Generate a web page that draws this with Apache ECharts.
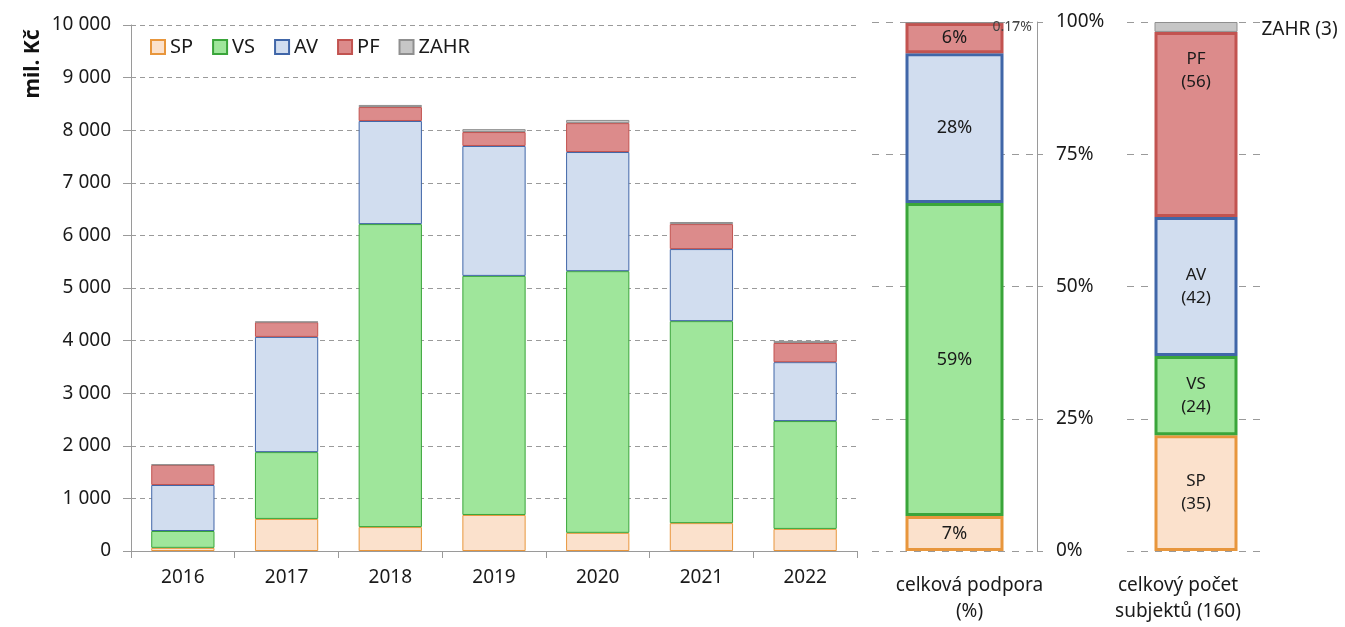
<!DOCTYPE html>
<html>
<head>
<meta charset="utf-8">
<script src="https://cdn.jsdelivr.net/npm/echarts@6/dist/echarts.min.js"></script>
<style>
  html, body { margin: 0; padding: 0; background: #fff; }
  #chart { width: 1345px; height: 627px; }
</style>
</head>
<body>
<div id="chart"></div>
<script>
// roky a hodnoty (mil. Kč)
const years = ['2016', '2017', '2018', '2019', '2020', '2021', '2022'];
const sp = [60, 610, 455, 685, 345, 530, 420];
const vs = [320, 1270, 5760, 4545, 4975, 3840, 2050];
const av = [875, 2190, 1960, 2470, 2265, 1370, 1120];
const pf = [380, 280, 265, 265, 550, 475, 365];
const zahr = [10, 10, 40, 55, 60, 40, 40];

// celková podpora (%)
const shareNames = ['SP', 'VS', 'AV', 'PF', 'ZAHR'];
const sharePct = [6.6, 59.2, 28.3, 5.7, 0.17];

// počet subjektů
const subjCount = [35, 24, 42, 56, 3];

const pctTicks = [0, 25, 50, 75, 100];

(function () {
    const chart = echarts.init(document.getElementById('chart'))
    const font = 'Noto Sans'
    const fill = ['#fbe1cc', '#9fe69b', '#d1ddef', '#dc8b8b', '#c6c6c6']
    const line = ['#e8963c', '#3aa53a', '#4066a8', '#c25350', '#8f8f8f']
    const grid = 'rgba(120,120,120,0.75)'
    const txt = '#1a1a1a'

    const mainData = [sp, vs, av, pf, zahr]
    const series = []

    // hlavní graf - skládané sloupce
    shareNames.forEach((name, i) => {
        series.push({
            name: name,
            type: 'bar',
            stack: 'main',
            xAxisIndex: 0,
            yAxisIndex: 0,
            barWidth: '61%',
            itemStyle: { color: fill[i], borderColor: line[i], borderWidth: 1 },
            data: mainData[i]
        })
    })

    // celková podpora
    shareNames.forEach((name, i) => {
        const isZahr = name === 'ZAHR'
        series.push({
            name: name,
            type: 'bar',
            stack: 'pct',
            xAxisIndex: 1,
            yAxisIndex: 1,
            barWidth: 98,
            itemStyle: { color: fill[i], borderColor: line[i], borderWidth: isZahr ? 1 : 3 },
            label: {
                show: true,
                position: isZahr ? 'right' : 'inside',
                offset: isZahr ? [-16, 4] : [0, 0],
                fontFamily: font,
                fontSize: isZahr ? 14 : 18,
                color: isZahr ? '#444' : txt,
                formatter: p => isZahr ? p.value + '%' : Math.round(p.value) + '%'
            },
            data: [sharePct[i]]
        })
    })

    // počet subjektů
    shareNames.forEach((name, i) => {
        const isZahr = name === 'ZAHR'
        series.push({
            name: name,
            type: 'bar',
            stack: 'cnt',
            xAxisIndex: 2,
            yAxisIndex: 2,
            barWidth: 83,
            itemStyle: { color: fill[i], borderColor: line[i], borderWidth: isZahr ? 1 : 3 },
            label: {
                show: true,
                position: isZahr ? 'right' : (name === 'PF' ? 'insideTop' : 'inside'),
                distance: name === 'PF' ? 16 : 8,
                offset: isZahr ? [16, 3] : [0, 0],
                fontFamily: font,
                fontSize: isZahr ? 19 : 17,
                lineHeight: 23,
                color: txt,
                formatter: p => isZahr ? name + ' (' + p.value + ')' : name + '\n(' + p.value + ')'
            },
            data: [subjCount[i]]
        })
    })

    const option = {
        animation: false,
        backgroundColor: '#fff',
        textStyle: { fontFamily: font },
        legend: {
            data: shareNames,
            left: 145,
            top: 32,
            itemWidth: 14,
            itemHeight: 14,
            itemGap: 19,
            icon: 'rect',
            textStyle: { fontFamily: font, fontSize: 20, color: txt }
        },
        graphic: [{
            type: 'text',
            x: 33,
            y: 64,
            rotation: Math.PI / 2,
            style: {
                text: 'mil. Kč',
                font: 'bold 21px "Noto Sans"',
                fill: '#111',
                align: 'center',
                verticalAlign: 'middle'
            }
        }],
        grid: [
            { left: 131, right: 488, top: 25, bottom: 76 },
            { left: 872, width: 165, top: 22, bottom: 76 },
            { left: 1127, width: 138, top: 22, bottom: 76 }
        ],
        xAxis: [
            {
                type: 'category',
                gridIndex: 0,
                data: years,
                axisLine: { lineStyle: { color: '#9a9a9a', width: 1 } },
                axisTick: { show: true, length: 7, lineStyle: { color: '#9a9a9a' } },
                axisLabel: { color: txt, fontSize: 19, fontFamily: font, margin: 17 }
            },
            {
                type: 'category',
                gridIndex: 1,
                data: ['celková podpora\n(%)'],
                axisLine: { show: false },
                axisTick: { show: false },
                axisLabel: {
                    color: txt, fontSize: 19, fontFamily: font, margin: 22, lineHeight: 26,
                    padding: [0, 0, 0, 30]
                }
            },
            {
                type: 'category',
                gridIndex: 2,
                data: ['celkový počet\nsubjektů (160)'],
                axisLine: { show: false },
                axisTick: { show: false },
                axisLabel: {
                    color: txt, fontSize: 19, fontFamily: font, margin: 22, lineHeight: 26,
                    padding: [0, 36, 0, 0]
                }
            }
        ],
        yAxis: [
            {
                type: 'value',
                gridIndex: 0,
                min: 0,
                max: 10000,
                interval: 1000,
                axisLine: { show: true, lineStyle: { color: '#9a9a9a' } },
                axisTick: { show: true, length: 8, lineStyle: { color: '#9a9a9a' } },
                axisLabel: {
                    color: txt, fontSize: 19, fontFamily: font, margin: 20,
                    formatter: v => String(v).replace(/\B(?=(\d{3})+(?!\d))/g, ' ')
                },
                splitLine: { lineStyle: { color: grid, type: [5, 4] } }
            },
            {
                type: 'value',
                gridIndex: 1,
                position: 'right',
                min: pctTicks[0],
                max: pctTicks[pctTicks.length - 1],
                interval: 25,
                axisLine: { show: true, lineStyle: { color: '#9a9a9a' } },
                axisTick: { show: true, length: 6, lineStyle: { color: '#9a9a9a' } },
                axisLabel: { color: txt, fontSize: 19, fontFamily: font, margin: 19, formatter: '{value}%' },
                splitLine: { lineStyle: { color: grid, type: [7, 7] } }
            },
            {
                type: 'value',
                gridIndex: 2,
                min: 0,
                max: 160,
                interval: 40,
                axisLine: { show: false },
                axisTick: { show: false },
                axisLabel: { show: false },
                splitLine: { lineStyle: { color: grid, type: [7, 7] } }
            }
        ],
        series: series
    }
    chart.setOption(option)
    window.addEventListener('resize', () => {
        chart.resize()
    })
})();
</script>
</body>
</html>
